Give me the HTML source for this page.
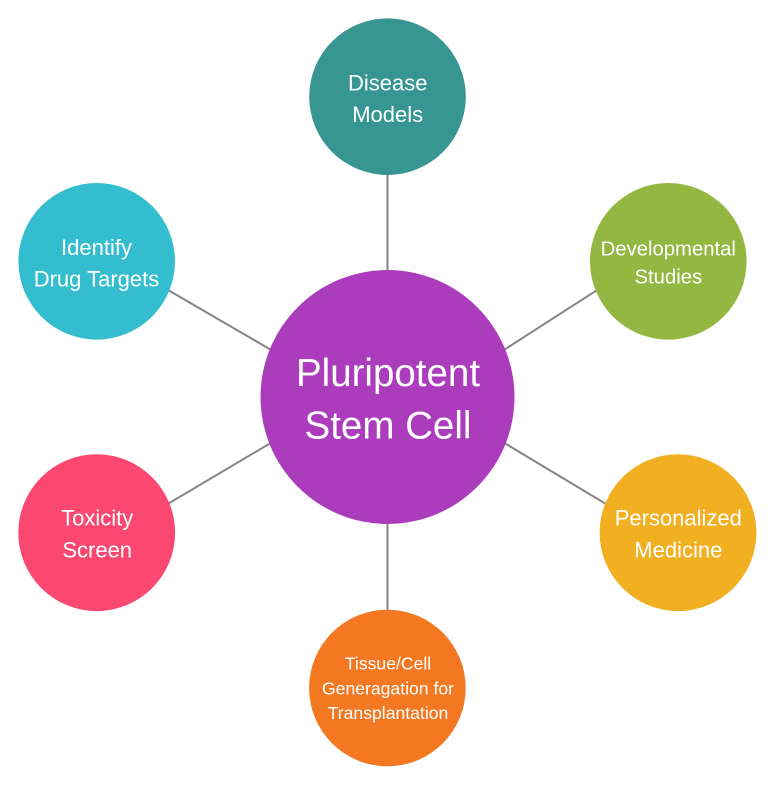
<!DOCTYPE html>
<html>
<head>
<meta charset="utf-8">
<style>
  html, body { margin: 0; padding: 0; background: #ffffff; }
  body { width: 775px; height: 785px; overflow: hidden; }
  svg { display: block; }
  text { font-family: "Liberation Sans", sans-serif; fill: #ffffff; text-anchor: middle; }
</style>
</head>
<body>
<svg width="775" height="785" viewBox="0 0 775 785" xmlns="http://www.w3.org/2000/svg">
  <!-- connectors -->
  <g stroke="#858585" stroke-width="2" fill="none">
    <line x1="387.5" y1="170" x2="387.5" y2="275"/>
    <line x1="387.5" y1="518" x2="387.5" y2="615"/>
    <line x1="165" y1="288.2" x2="274" y2="351.6"/>
    <line x1="501" y1="351.8" x2="600" y2="288.2"/>
    <line x1="501" y1="441" x2="610" y2="506.4"/>
    <line x1="166" y1="505" x2="274" y2="441"/>
  </g>

  <!-- center -->
  <circle cx="387.5" cy="397" r="127" fill="#AB3DBD"/>
  <text x="388" y="386" font-size="38.5">Pluripotent</text>
  <text x="388" y="438.3" font-size="38.5">Stem Cell</text>

  <!-- Disease Models -->
  <circle cx="387.5" cy="96.7" r="78.3" fill="#379592"/>
  <text x="387.7" y="90.7" font-size="22">Disease</text>
  <text x="387.7" y="122" font-size="22">Models</text>

  <!-- Identify Drug Targets -->
  <circle cx="96.7" cy="261.3" r="78.3" fill="#34BDCE"/>
  <text x="96.5" y="255" font-size="22">Identify</text>
  <text x="96.5" y="286.7" font-size="22">Drug Targets</text>

  <!-- Developmental Studies -->
  <circle cx="668.3" cy="261.3" r="78.3" fill="#93B740"/>
  <text x="668.3" y="255.3" font-size="20.3">Developmental</text>
  <text x="668.3" y="283.3" font-size="20.3">Studies</text>

  <!-- Personalized Medicine -->
  <circle cx="678" cy="532.7" r="78.4" fill="#F1B021"/>
  <text x="678.3" y="525.7" font-size="22">Personalized</text>
  <text x="678.3" y="557.7" font-size="22">Medicine</text>

  <!-- Toxicity Screen -->
  <circle cx="96.7" cy="532.7" r="78.4" fill="#FB4870"/>
  <text x="97.2" y="525.7" font-size="22">Toxicity</text>
  <text x="97.2" y="557.7" font-size="22">Screen</text>

  <!-- Tissue/Cell -->
  <circle cx="387.4" cy="688" r="78.3" fill="#F47721"/>
  <text x="388" y="669.3" font-size="17.6">Tissue/Cell</text>
  <text x="388" y="694.3" font-size="17.6">Generagation for</text>
  <text x="388" y="719" font-size="17.6">Transplantation</text>
</svg>
</body>
</html>
